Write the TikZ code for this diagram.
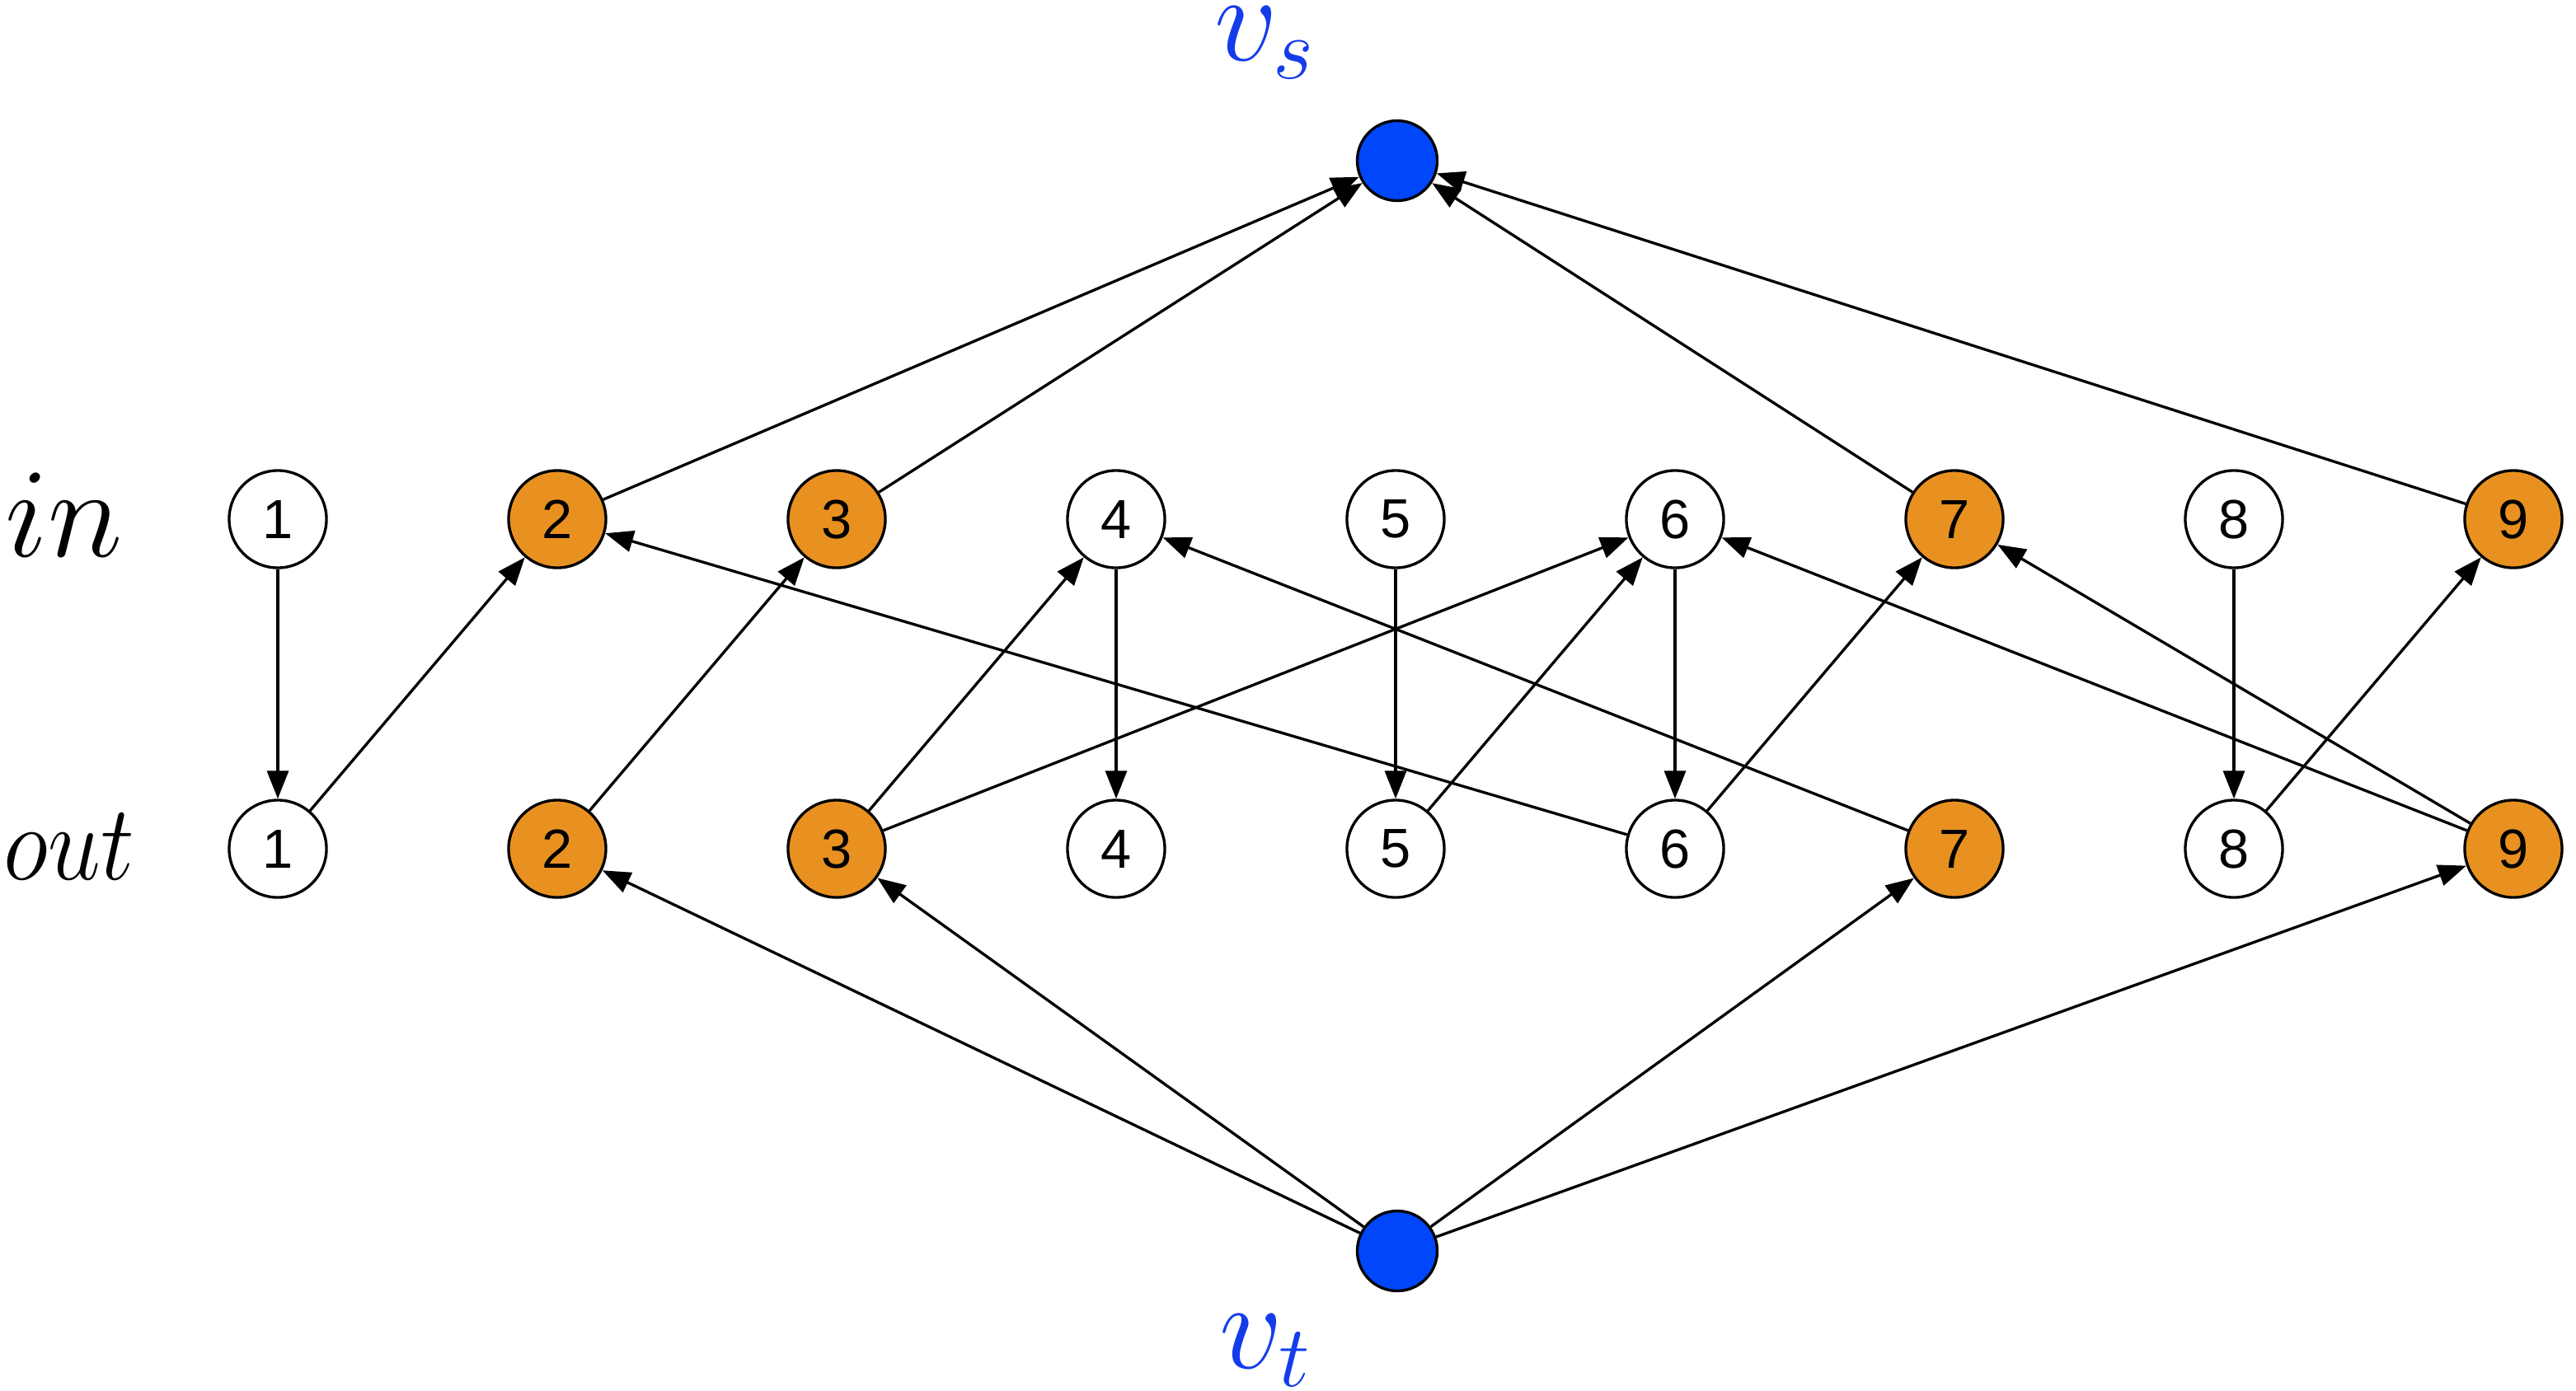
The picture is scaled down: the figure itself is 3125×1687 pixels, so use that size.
\RequirePackage{fix-cm}
\documentclass[tikz,border=0pt]{standalone}
\usepackage{fontspec}
\newfontfamily\numfont{Liberation Sans}
\usetikzlibrary{arrows.meta}
\definecolor{norange}{RGB}{232,145,32}
\definecolor{nblue}{RGB}{0,70,250}
\definecolor{lblue}{RGB}{20,60,235}
\begin{document}
\begin{tikzpicture}[x=0.01cm,y=-0.01cm,
  vert/.style={circle,draw=black,line width=0.95pt,minimum size=1.18cm,inner sep=0pt,font=\numfont\fontsize{19}{19}\selectfont},
  hot/.style={vert,fill=norange},
  cold/.style={vert,fill=white},
  term/.style={circle,draw=black,line width=0.95pt,minimum size=0.97cm,inner sep=0pt,fill=nblue},
  arr/.style={line width=0.95pt,-{Triangle[length=0.34cm,width=0.26cm]}},
  rowlbl/.style={font=\fontsize{44}{44}\selectfont,anchor=base west,inner sep=0pt},
  termlbl/.style={font=\fontsize{43}{43}\selectfont,text=lblue,anchor=base east,inner sep=0pt}]
\useasboundingbox (0,0) rectangle (3125,1687);
% in row
\node[cold] (i1) at (337,630) {1};
\node[hot]  (i2) at (676,630) {2};
\node[hot]  (i3) at (1015,630) {3};
\node[cold] (i4) at (1354,630) {4};
\node[cold] (i5) at (1693,630) {5};
\node[cold] (i6) at (2032,630) {6};
\node[hot]  (i7) at (2371,630) {7};
\node[cold] (i8) at (2710,630) {8};
\node[hot]  (i9) at (3049,630) {9};
% out row
\node[cold] (o1) at (337,1030) {1};
\node[hot]  (o2) at (676,1030) {2};
\node[hot]  (o3) at (1015,1030) {3};
\node[cold] (o4) at (1354,1030) {4};
\node[cold] (o5) at (1693,1030) {5};
\node[cold] (o6) at (2032,1030) {6};
\node[hot]  (o7) at (2371,1030) {7};
\node[cold] (o8) at (2710,1030) {8};
\node[hot]  (o9) at (3049,1030) {9};
% terminals
\node[term] (vs) at (1695,195) {};
\node[term] (vt) at (1695,1518) {};
\node[termlbl] (ls) at (1596,73) {$v_s$};
\node[termlbl] (lt) at (1591,1660) {$v_t$};
\node[rowlbl] (lin) at (6,675) {$in$};
\node[rowlbl,font=\fontsize{37}{37}\selectfont] (lout) at (4,1067) {\scalebox{0.88}[1]{$out$}};
% edges
\draw[arr] (i1) -- (o1);
\draw[arr] (o1) -- (i2);
\draw[arr] (o2) -- (i3);
\draw[arr] (o3) -- (i4);
\draw[arr] (i4) -- (o4);
\draw[arr] (i5) -- (o5);
\draw[arr] (o5) -- (i6);
\draw[arr] (o3) -- (i6);
\draw[arr] (i6) -- (o6);
\draw[arr] (o6) -- (i7);
\draw[arr] (o6) -- (i2);
\draw[arr] (o7) -- (i4);
\draw[arr] (o9) -- (i6);
\draw[arr] (o9) -- (i7);
\draw[arr] (i8) -- (o8);
\draw[arr] (o8) -- (i9);
\draw[arr] (i2) -- (vs);
\draw[arr] (i3) -- (vs);
\draw[arr] (i7) -- (vs);
\draw[arr] (i9) -- (vs);
\draw[arr] (vt) -- (o2);
\draw[arr] (vt) -- (o3);
\draw[arr] (vt) -- (o7);
\draw[arr] (vt) -- (o9);
\end{tikzpicture}
\end{document}
